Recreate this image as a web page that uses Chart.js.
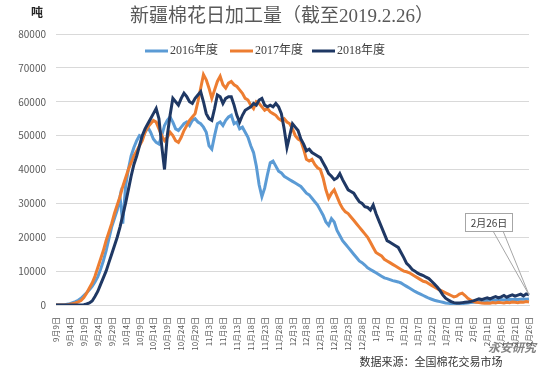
<!DOCTYPE html>
<html>
<head>
<meta charset="utf-8">
<script src="https://cdn.jsdelivr.net/npm/chart.js@4"></script>
<style>
  html, body { margin: 0; padding: 0; background: #fff; }
  #wrap { width: 550px; height: 372px; position: relative; }
</style>
</head>
<body>
<div id="wrap"><canvas id="chart"></canvas></div>
<script>
// daily ginning volume, tons, from 9/9 to 2/26 (171 days)
const seriesNames = ['2016年度', '2017年度', '2018年度'];
const seriesColors = ['#5b9bd5', '#ed7d31', '#1f3864'];

const v2016 = [
  0, 0, 0, 0, 200, 400, 700, 1000, 1400, 2000,
  2800, 3600, 4500, 5500, 6800, 8300, 10500, 13000, 16000, 19500,
  23000, 25500, 28000, 32000, 24000, 35000, 40000, 44000, 46500, 48500,
  50000, 49500, 51000, 52500, 51000, 49000, 48000, 47500, 50000, 53000,
  54500, 55500, 54000, 52000, 51500, 52500, 53500, 54000, 53000, 54500,
  55000, 54000, 53500, 52500, 51000, 47000, 46000, 50000, 53500, 54000,
  53000, 54500, 55500, 56000, 53500, 54000, 52000, 52500, 51000, 49500,
  47000, 45000, 41000, 35500, 32000, 34500, 38500, 42000, 42500, 41000,
  39500, 39000, 38000, 37500, 37000, 36500, 36000, 35500, 35000, 34000,
  33000, 32500, 31500, 30500, 29500, 28000, 26500, 24500, 23500, 25500,
  24500, 22000, 20500, 19000, 18000, 17000, 16000, 15000, 14000, 13000,
  12500, 11800, 11000, 10500, 10000, 9500, 9000, 8500, 8000, 7800,
  7500, 7200, 7000, 6800, 6500, 6000, 5500, 5000, 4500, 4000,
  3600, 3200, 2800, 2400, 2000, 1700, 1400, 1200, 1000, 800,
  600, 500, 400, 300, 300, 300, 400, 500, 600, 700,
  800, 900, 1000, 1100, 1200, 1300, 1400, 1500, 1400, 1500,
  1600, 1500, 1600, 1700, 1600, 1700, 1600, 1700, 1800, 1700,
  1800
];

const v2017 = [
  0, 0, 0, 0, 0, 200, 400, 600, 900, 1300,
  2200, 3500, 5000, 6500, 8500, 11000, 13500, 16000, 19000, 21500,
  24000, 27000, 29500, 32000, 35000, 37500, 40000, 42000, 44000, 45500,
  47000, 48500, 51000, 52500, 53500, 54500, 54000, 52000, 50000, 48500,
  49500, 51000, 50000, 48500, 48000, 49500, 51500, 53000, 54500, 55500,
  56500, 60000, 64000, 68000, 66500, 64000, 61000, 63500, 66000, 67500,
  65000, 64000, 65500, 66000, 65000, 64500, 63500, 62500, 61000, 60500,
  59000, 58000, 60000, 59500, 58500, 57500, 58000, 57000, 56500, 56000,
  55000, 54500, 55000, 54000, 53500, 52000, 50000, 49000, 48500, 46000,
  43000, 42500, 43000, 41500, 40500, 40000, 37500, 34000, 31500, 33000,
  34000, 32000, 30000, 28500, 27500, 27000, 26000, 25000, 24000, 23000,
  22000, 21000, 20000, 18500, 17000, 15500, 15000, 14500, 13500, 13000,
  12500, 12000, 11500, 11000, 10500, 10000, 9800, 9500, 9000, 8500,
  8000, 7500, 7000, 6800, 6300, 5800, 5300, 4800, 4400, 4000,
  3600, 3200, 2800, 2400, 2600, 3200, 3500, 2800, 2000, 1500,
  1000, 800, 700, 600, 500, 600, 500, 700, 600, 800,
  700, 600, 800, 700, 900, 800, 700, 900, 800, 1000,
  900
];

const v2018 = [
  0, 0, 0, 0, 0, 0, 0, 0, 0, 0,
  100, 300, 600, 1200, 2500, 4000, 6000, 8000, 10000, 12500,
  15000, 17500, 20000, 23000, 26500, 30000, 34000, 38000, 41500, 44000,
  47000, 50000, 52000, 53500, 55000, 56500, 58000, 55000, 47000, 40000,
  50000, 56000, 61000, 60000, 59000, 61000, 62500, 61500, 60000, 59500,
  61000, 62000, 63000, 60000, 56500, 55000, 54500, 58000, 62000, 61500,
  59500, 61000, 61500, 61500, 59000, 56000, 54000, 56000, 57500, 58000,
  58500, 59500, 59000, 60500, 61000, 59000, 58500, 59000, 58500, 59500,
  58500, 56500, 52000, 46500, 50000, 53500, 52500, 51500, 49000, 47500,
  45500, 46000, 45000, 44500, 44000, 43500, 42000, 40500, 38800, 38000,
  37000, 37500, 38800, 37000, 35500, 34000, 33500, 33000, 31700, 30500,
  30000, 29000, 28800, 28000, 29500, 27000, 25000, 23000, 21000, 19000,
  18500, 18000, 17500, 17000, 15500, 14000, 12300, 11500, 10500, 10000,
  9400, 9000, 8700, 8200, 7800, 7000, 6200, 5300, 4300, 3000,
  2000, 1500, 1000, 700, 600, 600, 700, 800, 900, 1000,
  1200, 1500, 1800, 1600, 1900, 2100, 1800, 2200, 2500, 2100,
  2400, 2800, 2300, 2700, 3000, 2600, 2900, 3200, 2700, 3300,
  3000
];

const yTicks = [0, 10000, 20000, 30000, 40000, 50000, 60000, 70000, 80000];

// date categories 9月9日 .. 2月26日
const months = [9, 10, 11, 12, 1, 2];
const monthDays = [30, 31, 30, 31, 31, 26];
const labels = [];
for (let m = 0; m < months.length; m++) {
  const start = m === 0 ? 9 : 1;
  for (let d = start; d <= monthDays[m]; d++) {
    labels.push(months[m] + '月' + d + '日');
  }
}

const serif = '"Liberation Serif", "DejaVu Serif", "Noto Sans CJK SC", serif';
const sans = '"Noto Sans CJK SC", "Liberation Sans", sans-serif';

const textPlugin = {
  id: 'texts',
  afterDraw(chart) {
    const c = chart.ctx;
    c.save();
    // unit + title
    c.fillStyle = '#262626';
    c.font = 'bold 12px ' + serif;
    c.textAlign = 'center';
    c.textBaseline = 'middle';
    c.fillText('吨', 37, 14);
    c.fillStyle = '#595959';
    c.font = '19px ' + serif;
    c.fillText('新疆棉花日加工量（截至2019.2.26）', 282, 17);

    // legend
    c.font = '12px ' + serif;
    c.textAlign = 'left';
    const lx = [145, 230, 312];
    seriesNames.forEach((n, i) => {
      c.strokeStyle = seriesColors[i];
      c.lineWidth = 3;
      c.beginPath();
      c.moveTo(lx[i], 51);
      c.lineTo(lx[i] + 23, 51);
      c.stroke();
      c.fillStyle = '#404040';
      c.fillText(n, lx[i] + 25, 51);
    });

    // callout for last point
    const xs = chart.scales.x, ys = chart.scales.y;
    const last = v2018.length - 1;
    const px = xs.getPixelForValue(last);
    const py = ys.getPixelForValue(v2018[last]);
    c.strokeStyle = '#a6a6a6';
    c.lineWidth = 1;
    c.beginPath();
    c.moveTo(493, 231); c.lineTo(px, py);
    c.moveTo(503, 231); c.lineTo(px, py);
    c.stroke();
    c.fillStyle = '#fff';
    c.fillRect(465.5, 213.5, 47, 18);
    c.strokeRect(465.5, 213.5, 47, 18);
    c.fillStyle = '#404040';
    c.font = '10px ' + sans;
    c.textAlign = 'center';
    c.fillText('2月26日', 489, 223);

    // source + watermark
    c.fillStyle = '#333';
    c.font = '11px ' + sans;
    c.fillText('数据来源：全国棉花交易市场', 431, 362);
    c.fillStyle = 'rgba(90,90,90,0.75)';
    c.font = 'italic bold 12px ' + sans;
    c.fillText('永安研究', 512, 347);
    c.restore();
  }
};

new Chart(document.getElementById('chart'), {
  type: 'line',
  data: {
    labels: labels,
    datasets: [v2016, v2017, v2018].map((vals, i) => ({
      label: seriesNames[i],
      data: vals,
      borderColor: seriesColors[i],
      backgroundColor: seriesColors[i],
      borderWidth: 3,
      pointRadius: 0,
      tension: 0,
      order: 2 - i
    }))
  },
  options: {
    responsive: true,
    maintainAspectRatio: false,
    animation: false,
    layout: { padding: { top: 34, right: 21, left: 0, bottom: 0 } },
    plugins: {
      legend: { display: false },
      title: { display: false },
      tooltip: { enabled: false }
    },
    scales: {
      x: {
        offset: false,
        grid: { display: false },
        border: { color: '#d9d9d9' },
        ticks: {
          autoSkip: false,
          maxRotation: 90,
          minRotation: 90,
          padding: 4,
          color: '#595959',
          font: { size: 8, family: sans },
          callback: (v, i) => (i % 5 === 0 ? labels[i] : null)
        },
        afterFit: (s) => { s.height = 67; }
      },
      y: {
        min: 0,
        max: 80000,
        afterBuildTicks: (s) => { s.ticks = yTicks.map(v => ({ value: v })); },
        grid: { color: '#d9d9d9', drawTicks: false },
        border: { display: false },
        ticks: {
          padding: 10,
          color: '#595959',
          font: { size: 10, family: sans },
          callback: (v) => String(v)
        },
        afterFit: (s) => { s.width = 56; }
      }
    }
  },
  plugins: [textPlugin]
});
</script>
</body>
</html>
